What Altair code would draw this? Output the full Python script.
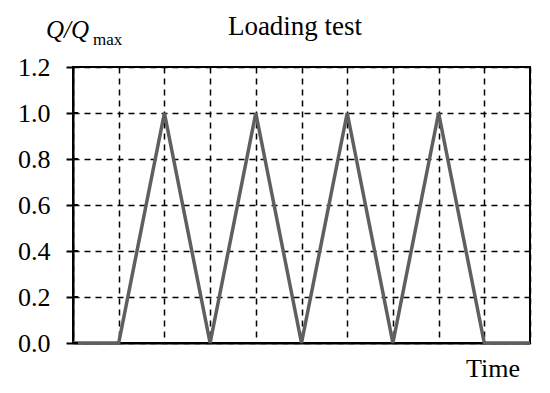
import altair as alt
import pandas as pd

# data
time_pts = [0, 1, 2, 3, 4, 5, 6, 7, 8, 9, 10]
load_vals = [0.0, 0.0, 1.0, 0.0, 1.0, 0.0, 1.0, 0.0, 1.0, 0.0, 0.0]
y_ticks = [0.0, 0.2, 0.4, 0.6, 0.8, 1.0, 1.2]
x_ticks = [0, 1, 2, 3, 4, 5, 6, 7, 8, 9, 10]

FONT = "Liberation Serif, Times New Roman, Times, serif"
W, H = 457, 276

df = pd.DataFrame({"t": time_pts, "q": load_vals})
ticks_df = pd.DataFrame({"yt": y_ticks})

xs = alt.Scale(domain=[0, 10], nice=False, zero=False)
ys = alt.Scale(domain=[0, 1.2], nice=False)

line = alt.Chart(df).mark_line(color="#5f5f5f", strokeWidth=3.5).encode(
    x=alt.X("t:Q", scale=xs,
            axis=alt.Axis(values=x_ticks, labels=False, ticks=False, title=None,
                          grid=True, gridColor="black", gridDash=[6, 5], gridWidth=1.5,
                          domainColor="black", domainWidth=2)),
    y=alt.Y("q:Q", scale=ys,
            axis=alt.Axis(values=y_ticks, format=".1f", title=None,
                          grid=True, gridColor="black", gridDash=[6, 5], gridWidth=1.5,
                          domainColor="black", domainWidth=2,
                          tickColor="black", tickSize=7, tickWidth=2,
                          labelFont=FONT, labelFontSize=26, labelColor="black",
                          labelPadding=16)),
)

inner_ticks = alt.Chart(ticks_df).mark_rule(color="black", strokeWidth=2).encode(
    y=alt.Y("yt:Q", scale=ys),
    x=alt.value(0),
    x2=alt.value(5),
)

def txt(s, x, y, size, style="normal", align="left"):
    return alt.Chart(pd.DataFrame({"s": [s]})).mark_text(
        font=FONT, fontSize=size, fontStyle=style, align=align, baseline="alphabetic",
        color="black",
    ).encode(text="s:N", x=alt.value(x), y=alt.value(y))

title = txt("Loading test", 222, -32, 27, align="center")
q1 = txt("Q/Q", -27, -29, 25, style="italic")
q2 = txt("max", 20, -22, 17)
tlab = txt("Time", 393, 310, 26)

chart = alt.layer(line, inner_ticks, title, q1, q2, tlab).properties(
    width=W, height=H,
    autosize=alt.AutoSizeParams(type="none"),
    padding={"left": 65, "top": 59, "right": 12, "bottom": 42},
).configure_view(stroke="black", strokeWidth=2)

chart.save("out.html", embed_options={"renderer": "svg", "actions": False})
